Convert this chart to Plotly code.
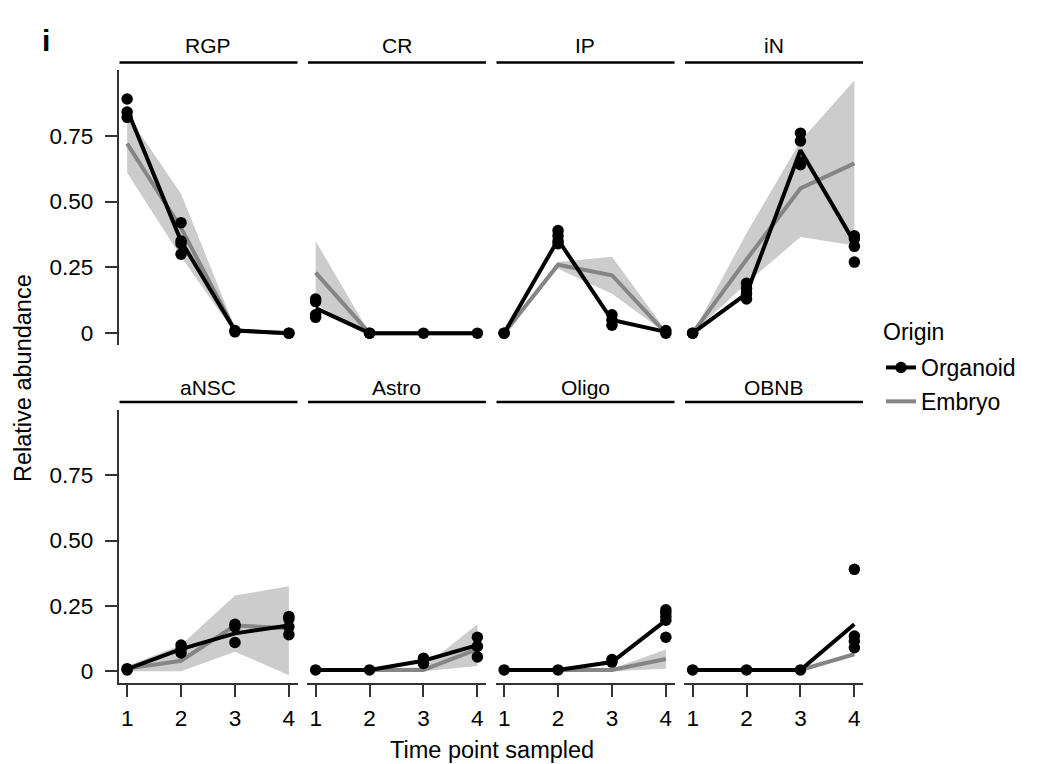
import plotly.graph_objects as go

W, H = 1040, 764
OFF = 8  # page body margin in the browser

time_points = [1, 2, 3, 4]
cell_types = ["RGP", "CR", "IP", "iN", "aNSC", "Astro", "Oligo", "OBNB"]
y_tickvals = [0, 0.25, 0.5, 0.75]
y_ticktext = ["0", "0.25", "0.50", "0.75"]
x_tickvals = [1, 2, 3, 4]

# organoid replicates, one list per time point
rgp_org = [[0.89, 0.84, 0.82], [0.42, 0.35, 0.34, 0.30], [0.01, 0.005], [0.0, 0.0]]
cr_org = [[0.13, 0.12, 0.07, 0.06], [0.0, 0.0], [0.0], [0.0]]
ip_org = [[0.0, 0.0], [0.39, 0.37, 0.35, 0.34], [0.07, 0.05, 0.03], [0.01, 0.0]]
in_org = [[0.0, 0.0], [0.19, 0.17, 0.15, 0.13], [0.76, 0.73, 0.65, 0.64], [0.37, 0.36, 0.33, 0.27]]
ansc_org = [[0.01, 0.005], [0.10, 0.085, 0.07], [0.18, 0.17, 0.11], [0.21, 0.20, 0.17, 0.14]]
astro_org = [[0.005], [0.005], [0.05, 0.03], [0.13, 0.095, 0.055]]
oligo_org = [[0.005], [0.005], [0.045, 0.035], [0.235, 0.225, 0.21, 0.195, 0.13]]
obnb_org = [[0.005], [0.005], [0.005], [0.39, 0.135, 0.115, 0.09]]

# organoid mean lines
rgp_org_mean = [0.85, 0.35, 0.01, 0.0]
cr_org_mean = [0.095, 0.0, 0.0, 0.0]
ip_org_mean = [0.0, 0.355, 0.05, 0.005]
in_org_mean = [0.0, 0.15, 0.695, 0.345]
ansc_org_mean = [0.008, 0.085, 0.145, 0.175]
astro_org_mean = [0.005, 0.005, 0.04, 0.10]
oligo_org_mean = [0.005, 0.005, 0.035, 0.195]
obnb_org_mean = [0.005, 0.005, 0.005, 0.18]

# embryo mean and band
rgp_emb = [0.72, 0.40, 0.01, 0.0]
rgp_emb_lo = [0.61, 0.29, 0.0, 0.0]
rgp_emb_hi = [0.83, 0.53, 0.02, 0.0]
cr_emb = [0.23, 0.0, 0.0, 0.0]
cr_emb_lo = [0.11, 0.0, 0.0, 0.0]
cr_emb_hi = [0.35, 0.0, 0.0, 0.0]
ip_emb = [0.0, 0.26, 0.22, 0.0]
ip_emb_lo = [0.0, 0.245, 0.15, 0.0]
ip_emb_hi = [0.0, 0.27, 0.29, 0.01]
in_emb = [0.0, 0.28, 0.55, 0.645]
in_emb_lo = [0.0, 0.19, 0.365, 0.333]
in_emb_hi = [0.0, 0.38, 0.73, 0.96]
ansc_emb = [0.01, 0.04, 0.175, 0.165]
ansc_emb_lo = [0.0, 0.0, 0.075, -0.015]
ansc_emb_hi = [0.02, 0.10, 0.29, 0.325]
astro_emb = [0.005, 0.005, 0.005, 0.085]
astro_emb_lo = [0.0, 0.0, 0.0, 0.02]
astro_emb_hi = [0.01, 0.01, 0.015, 0.18]
oligo_emb = [0.005, 0.005, 0.005, 0.047]
oligo_emb_lo = [0.0, 0.0, 0.0, 0.01]
oligo_emb_hi = [0.01, 0.01, 0.01, 0.083]
obnb_emb = [0.005, 0.005, 0.005, 0.065]
obnb_emb_lo = [0.0, 0.0, 0.0, 0.06]
obnb_emb_hi = [0.01, 0.01, 0.01, 0.07]

org_points = [rgp_org, cr_org, ip_org, in_org, ansc_org, astro_org, oligo_org, obnb_org]
org_means = [rgp_org_mean, cr_org_mean, ip_org_mean, in_org_mean,
             ansc_org_mean, astro_org_mean, oligo_org_mean, obnb_org_mean]
emb_means = [rgp_emb, cr_emb, ip_emb, in_emb, ansc_emb, astro_emb, oligo_emb, obnb_emb]
emb_los = [rgp_emb_lo, cr_emb_lo, ip_emb_lo, in_emb_lo,
           ansc_emb_lo, astro_emb_lo, oligo_emb_lo, obnb_emb_lo]
emb_his = [rgp_emb_hi, cr_emb_hi, ip_emb_hi, in_emb_hi,
           ansc_emb_hi, astro_emb_hi, oligo_emb_hi, obnb_emb_hi]

FONT = "Liberation Sans, Arial, sans-serif"
BLACK = "#000000"
GREY = "#858585"
BAND = "#cccccc"
AXIS = "#333333"


def fx(px):
    # screen pixel -> paper x
    return (px - OFF) / W


def fy(py):
    # screen pixel -> paper y
    return (H - (py - OFF)) / H


# panel geometry in screen pixels
lefts = [118.5, 307, 495.5, 684]
pw = 179
rows_px = [(70, 345), (410, 683)]
strip_line_y = [62.5, 402]
strip_text_y = [46, 387]

fig = go.Figure()
layout = {}
shapes = []
annotations = []

for i, ct in enumerate(cell_types):
    r, c = divmod(i, 4)
    n = i + 1
    xa = "x" if n == 1 else f"x{n}"
    ya = "y" if n == 1 else f"y{n}"

    # embryo band
    fig.add_trace(go.Scatter(
        x=time_points + time_points[::-1],
        y=emb_his[i] + emb_los[i][::-1],
        fill="toself", fillcolor=BAND, line=dict(width=0),
        mode="lines", hoverinfo="skip", showlegend=False,
        xaxis=xa, yaxis=ya))
    # embryo line
    fig.add_trace(go.Scatter(
        x=time_points, y=emb_means[i], mode="lines",
        line=dict(color=GREY, width=4), showlegend=False,
        xaxis=xa, yaxis=ya))
    # organoid line
    fig.add_trace(go.Scatter(
        x=time_points, y=org_means[i], mode="lines",
        line=dict(color=BLACK, width=4), showlegend=False,
        xaxis=xa, yaxis=ya))
    # organoid replicate points
    px_, py_ = [], []
    for t, vals in zip(time_points, org_points[i]):
        px_ += [t] * len(vals)
        py_ += vals
    fig.add_trace(go.Scatter(
        x=px_, y=py_, mode="markers",
        marker=dict(color=BLACK, size=11.5), showlegend=False,
        xaxis=xa, yaxis=ya))

    x0, x1 = lefts[c], lefts[c] + pw
    top, bot = rows_px[r]
    bottom_row = r == 1
    left_col = c == 0

    layout["xaxis" if n == 1 else f"xaxis{n}"] = dict(
        domain=[fx(x0), fx(x1)], range=[0.84, 4.16], anchor=ya,
        showgrid=False, zeroline=False,
        showline=bottom_row, linecolor=AXIS, linewidth=1.5,
        ticks="outside" if bottom_row else "", ticklen=12, tickwidth=1.5,
        tickcolor=AXIS, tickvals=x_tickvals, showticklabels=bottom_row,
        ticklabelstandoff=2,
        tickfont=dict(family=FONT, size=22.5, color=BLACK))
    layout["yaxis" if n == 1 else f"yaxis{n}"] = dict(
        domain=[fy(bot), fy(top)], range=[-0.045, 1.0], anchor=xa,
        showgrid=False, zeroline=False,
        showline=left_col, linecolor=AXIS, linewidth=1.5,
        ticks="outside" if left_col else "", ticklen=12, tickwidth=1.5,
        tickcolor=AXIS, tickvals=y_tickvals, ticktext=y_ticktext,
        showticklabels=left_col, ticklabelstandoff=7,
        tickfont=dict(family=FONT, size=22.5, color=BLACK))

    # facet strip
    shapes.append(dict(type="line", xref="paper", yref="paper",
                       x0=fx(x0 + 1), x1=fx(x1),
                       y0=fy(strip_line_y[r]), y1=fy(strip_line_y[r]),
                       line=dict(color=BLACK, width=2.5)))
    annotations.append(dict(text=ct, xref="paper", yref="paper",
                            x=fx((x0 + x1) / 2), y=fy(strip_text_y[r]),
                            showarrow=False, xanchor="center", yanchor="middle",
                            font=dict(family=FONT, size=21, color=BLACK)))

# legend entries
fig.add_trace(go.Scatter(x=[None], y=[None], mode="lines+markers", name="Organoid",
                         line=dict(color=BLACK, width=4),
                         marker=dict(color=BLACK, size=11.5), legendgroup="org"))
fig.add_trace(go.Scatter(x=[None], y=[None], mode="lines", name="Embryo",
                         line=dict(color=GREY, width=4), legendgroup="emb"))

annotations += [
    dict(text="<b>i</b>", xref="paper", yref="paper", x=fx(46), y=fy(41),
         xanchor="center", yanchor="middle",
         showarrow=False, font=dict(family=FONT, size=30, color=BLACK)),
    dict(text="Relative abundance", xref="paper", yref="paper", x=fx(23), y=fy(378),
         xanchor="center", yanchor="middle",
         showarrow=False, textangle=-90, font=dict(family=FONT, size=23.5, color=BLACK)),
    dict(text="Time point sampled", xref="paper", yref="paper", x=fx(492), y=fy(750),
         xanchor="center", yanchor="middle",
         showarrow=False, font=dict(family=FONT, size=23.5, color=BLACK)),
    dict(text="Origin", xref="paper", yref="paper", x=fx(881), y=fy(332),
         xanchor="left", yanchor="middle",
         showarrow=False, font=dict(family=FONT, size=23, color=BLACK)),
]

fig.update_layout(
    width=W, height=H,
    margin=dict(l=0, r=0, t=0, b=0),
    paper_bgcolor="white", plot_bgcolor="white",
    shapes=shapes, annotations=annotations,
    legend=dict(x=fx(881), y=fy(346), xanchor="left", yanchor="top",
                font=dict(family=FONT, size=23, color=BLACK),
                traceorder="grouped", tracegroupgap=1),
    **layout)

fig.write_html("out.html")
